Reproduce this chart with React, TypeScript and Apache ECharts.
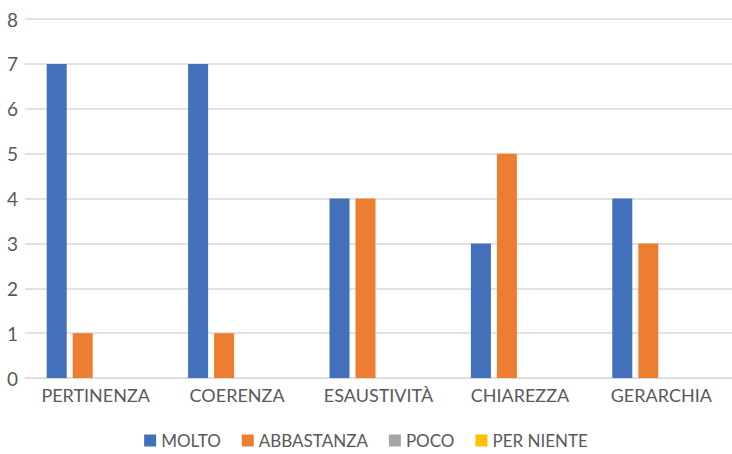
import React, { useEffect, useRef } from "react";
import * as echarts from "echarts";

const categories = ["PERTINENZA", "COERENZA", "ESAUSTIVITÀ", "CHIAREZZA", "GERARCHIA"];
const seriesNames = ["MOLTO", "ABBASTANZA", "POCO", "PER NIENTE"];
const molto = [7, 7, 4, 3, 4];
const abbastanza = [1, 1, 4, 5, 3];
const poco = [0, 0, 0, 0, 0];
const perNiente = [0, 0, 0, 0, 0];
const colors = ["#4270BA", "#ED7D31", "#A5A5A5", "#FFC000"];

export default function App() {
  const ref = useRef<HTMLDivElement>(null);
  useEffect(() => {
    if (!ref.current) return;
    const chart = echarts.init(ref.current, null, { renderer: "svg" });
    const font = "Lato, 'Open Sans', sans-serif";
    const data = [molto, abbastanza, poco, perNiente];
    chart.setOption({
      animation: false,
      color: colors,
      textStyle: { fontFamily: font },
      grid: { left: 25, right: -1, top: 19, bottom: 76, containLabel: false },
      legend: {
        bottom: 0,
        left: "center",
        itemWidth: 12,
        itemHeight: 12,
        itemGap: 21,
        icon: "rect",
        textStyle: { color: "#595959", fontSize: 17, fontFamily: font },
        data: seriesNames,
      },
      xAxis: {
        type: "category",
        data: categories,
        axisLine: { lineStyle: { color: "#D9D9D9", width: 1 } },
        axisTick: { show: false },
        axisLabel: { color: "#595959", fontSize: 18, margin: 8, interval: 0, fontFamily: font },
      },
      yAxis: {
        type: "value",
        min: 0,
        max: 8,
        interval: 1,
        axisLine: { show: false },
        axisTick: { show: false },
        axisLabel: { color: "#595959", fontSize: 19, margin: 7, fontFamily: font },
        splitLine: { lineStyle: { color: "#D9D9D9", width: 1.5 } },
      },
      series: seriesNames.map((name, i) => ({
        name,
        type: "bar",
        data: data[i],
        barWidth: 20,
        barGap: "30%",
        itemStyle: { color: colors[i] },
      })),
    });
    return () => chart.dispose();
  }, []);
  return <div ref={ref} style={{ width: 732, height: 454, position: "absolute", left: 0, top: 0 }} />;
}
